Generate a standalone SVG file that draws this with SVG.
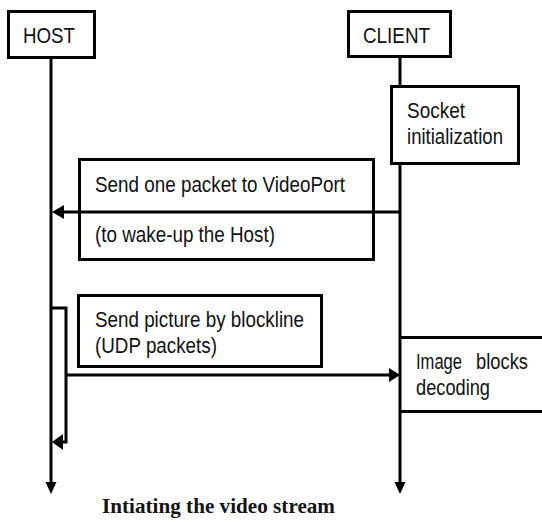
<svg xmlns="http://www.w3.org/2000/svg" width="542" height="522" viewBox="0 0 542 522">
  <style>
    .box { fill: #fff; stroke: #000; stroke-width: 3; }
    .frame { fill: none; stroke: #000; stroke-width: 3; }
    .line { fill: none; stroke: #000; stroke-width: 3; }
    .head { fill: #000; stroke: none; }
    .lbl { font-family: "Liberation Sans", Arial, sans-serif; font-size: 22.5px; fill: #111; }
    .cap { font-family: "Liberation Serif", "Times New Roman", serif; font-size: 21px; font-weight: bold; fill: #151515; }
  </style>
  <rect width="542" height="522" fill="#fff"/>

  <!-- lifelines and messages -->
  <g id="connectors">
    <line class="line" x1="51" y1="58" x2="51" y2="484"/>
    <polygon class="head" points="45.5,482 56.5,482 51,494"/>
    <line class="line" x1="400" y1="57" x2="400" y2="484"/>
    <polygon class="head" points="394.5,482 405.5,482 400,494"/>

    <!-- client to host wake-up packet -->
    <line class="line" x1="400" y1="212" x2="60" y2="212"/>
    <polygon class="head" points="52,212 64,205 64,219"/>

    <!-- host picture transfer to client -->
    <line class="line" x1="66" y1="375" x2="392" y2="375"/>
    <polygon class="head" points="400,375 389,368 389,382"/>

    <!-- host activation loop -->
    <polyline class="line" points="51,308 66,308 66,442 60,442"/>
    <polygon class="head" points="52,442 63,434 63,450"/>
  </g>

  <g id="host">
    <rect class="box" x="8.5" y="11.5" width="86" height="46"/>
    <text class="lbl" x="23" y="43" textLength="52" lengthAdjust="spacingAndGlyphs">HOST</text>
  </g>

  <g id="client">
    <rect class="box" x="348.5" y="11.5" width="102" height="45"/>
    <text class="lbl" x="363" y="43" textLength="67" lengthAdjust="spacingAndGlyphs">CLIENT</text>
  </g>

  <g id="socket-init">
    <rect class="box" x="391.5" y="86.5" width="127" height="77"/>
    <text class="lbl" x="407" y="118" textLength="58" lengthAdjust="spacingAndGlyphs">Socket</text>
    <text class="lbl" x="407" y="144" textLength="96" lengthAdjust="spacingAndGlyphs">initialization</text>
  </g>

  <g id="wake-up">
    <rect class="frame" x="79.5" y="159.5" width="294" height="100"/>
    <text class="lbl" x="95" y="192" textLength="250" lengthAdjust="spacingAndGlyphs">Send one packet to VideoPort</text>
    <text class="lbl" x="95" y="242" textLength="180" lengthAdjust="spacingAndGlyphs">(to wake-up the Host)</text>
  </g>

  <g id="send-picture">
    <rect class="box" x="78.5" y="295.5" width="243" height="71"/>
    <text class="lbl" x="95" y="327" textLength="209" lengthAdjust="spacingAndGlyphs">Send picture by blockline</text>
    <text class="lbl" x="95" y="353" textLength="122" lengthAdjust="spacingAndGlyphs">(UDP packets)</text>
  </g>

  <g id="image-decoding">
    <path class="line" d="M400,337.5 H545 M400,411.5 H545"/>
    <text class="lbl" y="369"><tspan x="416" textLength="46" lengthAdjust="spacingAndGlyphs">Image</tspan> <tspan x="476" textLength="52" lengthAdjust="spacingAndGlyphs">blocks</tspan></text>
    <text class="lbl" x="416" y="395" textLength="74" lengthAdjust="spacingAndGlyphs">decoding</text>
  </g>

  <g id="caption">
    <text class="cap" x="102" y="513" textLength="233" lengthAdjust="spacingAndGlyphs">Intiating the video stream</text>
  </g>
</svg>
